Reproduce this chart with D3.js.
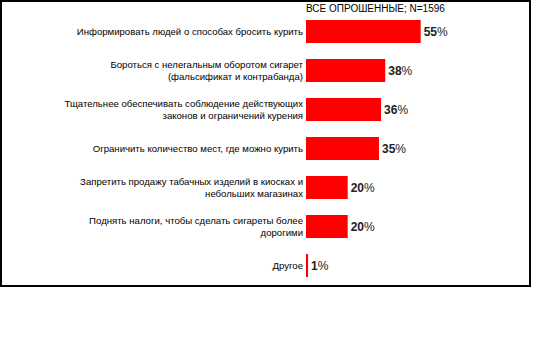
<!DOCTYPE html>
<html>
<head>
<meta charset="utf-8">
<script src="https://cdn.jsdelivr.net/npm/d3@7"></script>
<style>
    body { margin: 0; background: #fff; }
    svg { display: block; }
</style>
</head>
<body>
<div id="chart"></div>
<script>
// Chart data
const title = "ВСЕ ОПРОШЕННЫЕ; N=1596";
const categories = [
    ["Информировать людей о способах бросить курить"],
    ["Бороться с нелегальным оборотом сигарет", "(фальсификат и контрабанда)"],
    ["Тщательнее обеспечивать соблюдение действующих", "законов и ограничений курения"],
    ["Ограничить количество мест, где можно курить"],
    ["Запретить продажу табачных изделий в киосках и", "небольших магазинах"],
    ["Поднять налоги, чтобы сделать сигареты более", "дорогими"],
    ["Другое"]
];
const values = [55, 38, 36, 35, 20, 20, 1];

// SVG dimensions
const w = 560;
const h = 362;
const x0 = 306;

const svg = d3.select("#chart")
    .append("svg")
    .attr("width", w)
    .attr("height", h);

// Frame
svg.append("rect")
    .attr("x", 1)
    .attr("y", 1)
    .attr("width", 529)
    .attr("height", 285)
    .attr("fill", "none")
    .attr("stroke", "black")
    .attr("stroke-width", 2);

// Scales
const xScale = d3.scaleLinear()
    .domain([0, 100])
    .range([x0, x0 + 208.5]);

const yScale = d3.scaleBand()
    .domain(d3.range(categories.length))
    .range([12, 285])
    .paddingInner(16 / 39)
    .paddingOuter(8 / 39);

// Title
svg.append("text")
    .attr("x", x0)
    .attr("y", 12)
    .style("font-family", "Liberation Sans, Arial, sans-serif")
    .style("font-size", "10px")
    .attr("fill", "black")
    .text(title);

// Bars
svg.selectAll("rect.bar")
    .data(values)
    .enter()
    .append("rect")
    .attr("class", "bar")
    .attr("x", xScale(0))
    .attr("y", (d, i) => yScale(i))
    .attr("width", d => xScale(d) - xScale(0))
    .attr("height", yScale.bandwidth())
    .attr("fill", "#ff0000");

// Category labels
categories.forEach(function(lines, i) {
    const cy = yScale(i) + yScale.bandwidth() / 2;
    const lineH = 12;
    const top = cy - (lines.length - 1) * lineH / 2 + 3.5;
    const t = svg.append("text")
        .attr("text-anchor", "end")
        .style("font-family", "Liberation Sans, Arial, sans-serif")
        .style("font-size", "9.6px")
        .attr("fill", "black");
    lines.forEach(function(line, j) {
        t.append("tspan")
            .attr("x", x0 - 3)
            .attr("y", top + j * lineH)
            .text(line);
    });
});

// Value labels
values.forEach(function(v, i) {
    const t = svg.append("text")
        .attr("x", xScale(v) + 3)
        .attr("y", yScale(i) + yScale.bandwidth() / 2 + 4.5)
        .style("font-family", "Liberation Sans, Arial, sans-serif")
        .style("font-size", "12px")
        .attr("fill", "#222");
    t.append("tspan")
        .style("font-weight", "bold")
        .text(v);
    t.append("tspan")
        .text("%");
});
</script>
</body>
</html>
